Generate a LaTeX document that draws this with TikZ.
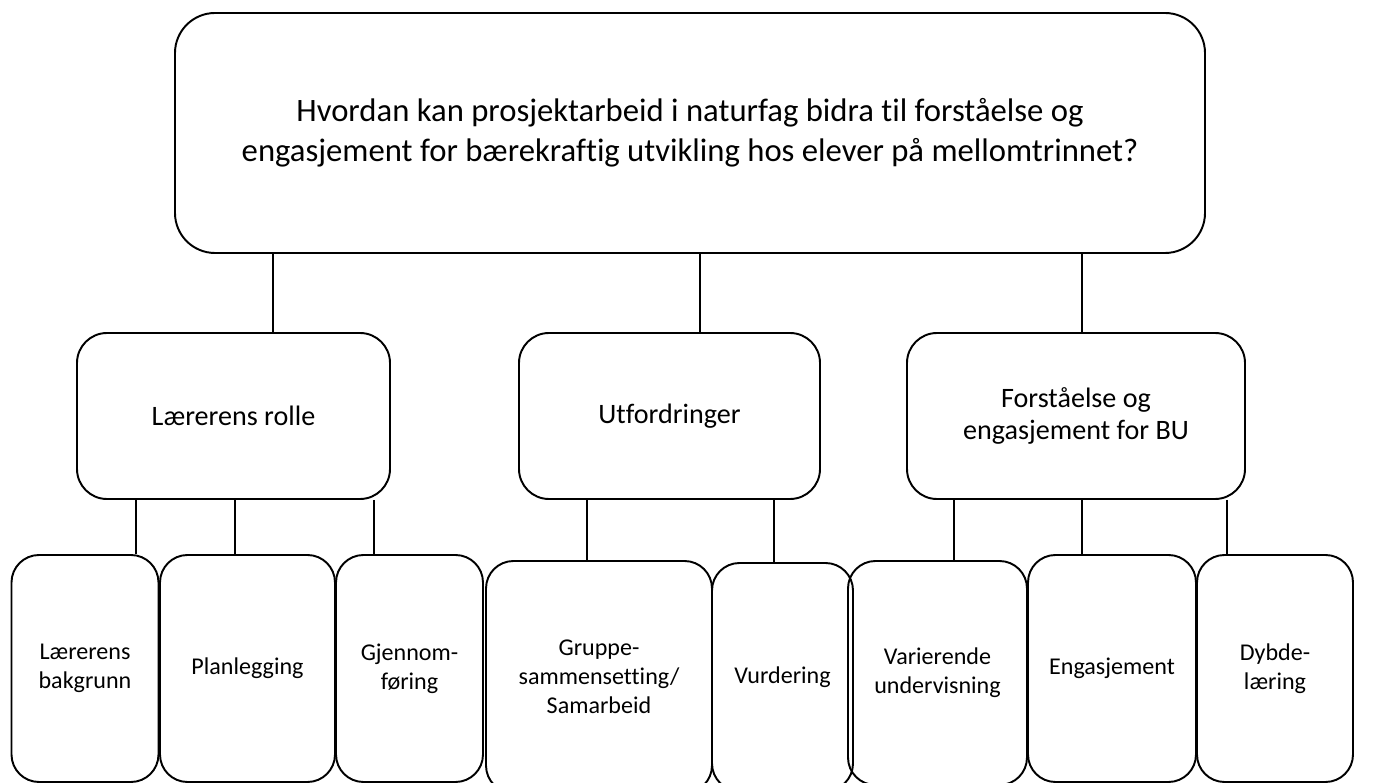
\documentclass[tikz,border=0pt]{standalone}
\usepackage{fontspec}
\setmainfont{Carlito}[Ligatures=NoCommon]
\usetikzlibrary{positioning}

\begin{document}
\begin{tikzpicture}[x=0.02cm, y=-0.02cm, line width=1.1pt,
		box/.style={draw, align=center, inner sep=0pt},
		hovedbox/.style={box, rounded corners=0.8cm, font=\fontsize{18.6}{22.7}\selectfont},
		temabox/.style={box, rounded corners=0.6cm, minimum height=166*0.02cm, font=\fontsize{16}{18.5}\selectfont},
		delbox/.style={box, rounded corners=0.55cm, font=\fontsize{13.7}{16.5}\selectfont}]
		\clip (0,0) rectangle (1377,783);

		\node[hovedbox, minimum width=1030*0.02cm, minimum height=240*0.02cm] (top) at (690,133)
			{Hvordan kan prosjektarbeid i naturfag bidra til forståelse og\\engasjement for bærekraftig utvikling hos elever på mellomtrinnet?};

		\node[temabox, minimum width=313*0.02cm] (rolle) at (233.5,416) {Lærerens rolle};
		\node[temabox, minimum width=301*0.02cm] (utf) at (669.5,416) {Utfordringer};
		\node[temabox, minimum width=338*0.02cm] (bu) at (1076,416) {Forståelse og\\engasjement for BU};

		\node[delbox, minimum width=147*0.02cm, minimum height=227*0.02cm] (bakgrunn) at (85,668.5) {Lærerens\\bakgrunn};
		\node[delbox, minimum width=175*0.02cm, minimum height=227*0.02cm] (plan) at (247.5,668.5) {Planlegging};
		\node[delbox, minimum width=147*0.02cm, minimum height=227*0.02cm] (gjen) at (409.5,668.5) {Gjennom-\\føring};
		\node[delbox, minimum width=226*0.02cm, minimum height=232*0.02cm] (gruppe) at (599,677) {Gruppe-\\sammensetting/\\Samarbeid};
		\node[delbox, minimum width=141*0.02cm, minimum height=228*0.02cm] (vurd) at (782.5,677) {Vurdering};
		\node[delbox, minimum width=179*0.02cm, minimum height=224*0.02cm] (var) at (937.5,673) {Varierende\\undervisning};
		\node[delbox, minimum width=168*0.02cm, minimum height=227*0.02cm] (eng) at (1112,668.5) {Engasjement};
		\node[delbox, minimum width=156*0.02cm, minimum height=227*0.02cm] (dybde) at (1275,668.5) {Dybde-\\læring};

		\foreach \fra/\til/\x in {top/rolle/273, top/utf/700, top/bu/1082,
				rolle/bakgrunn/136, rolle/plan/235, rolle/gjen/374,
				utf/gruppe/587, utf/vurd/774,
				bu/var/954, bu/eng/1082, bu/dybde/1227} {
			\draw (\fra.south -| \x,0) -- (\til.north -| \x,0);
		}
	\end{tikzpicture}
\end{document}
